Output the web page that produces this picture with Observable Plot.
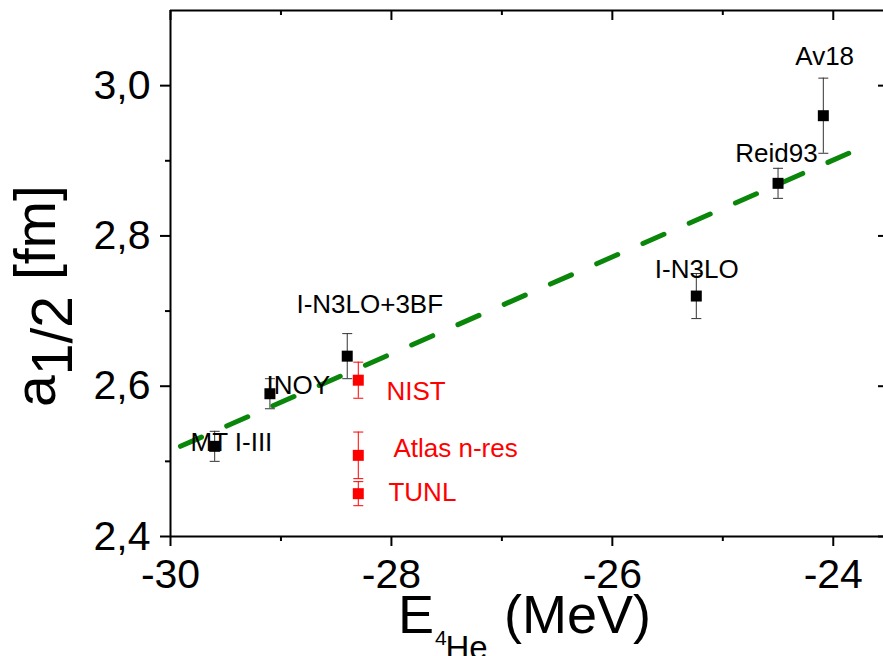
<!DOCTYPE html>
<html><head><meta charset="utf-8">
<script src="https://cdn.jsdelivr.net/npm/d3@7"></script>
<script src="https://cdn.jsdelivr.net/npm/@observablehq/plot@0.6"></script>
<style>html,body{margin:0;padding:0;background:#fff;overflow:hidden;} #chart svg{max-width:none !important;}</style>
</head><body><div id="chart"></div>
<script>
// ---- data ----
const models    = ["MT I-III", "INOY", "I-N3LO+3BF", "I-N3LO", "Reid93", "Av18"];
const modelE    = [-29.6, -29.1, -28.4, -25.24, -24.5, -24.09];
const modelA    = [2.52, 2.59, 2.64, 2.72, 2.87, 2.96];
const modelErr  = [0.02, 0.02, 0.03, 0.03, 0.02, 0.05];
const modelLabelE = [-29.819, -29.131, -28.860, -25.615, -24.887, -24.344];
const modelLabelA = [2.5133, 2.5899, 2.6969, 2.744, 2.8979, 3.0276];

const expts     = ["NIST", "Atlas n-res", "TUNL"];
const exptE     = [-28.3, -28.3, -28.3];
const exptA     = [2.608, 2.508, 2.457];
const exptErr   = [0.024, 0.031, 0.016];
const exptLabelE = [-28.045, -27.982, -28.027];
const exptLabelA = [2.5823, 2.5063, 2.4476];

const fitE = [-29.91, -23.86];
const fitA = [2.52, 2.91];

const xMajor = [-30, -28, -26, -24];
const xMinor = [-29, -27, -25];
const yMajor = [2.4, 2.6, 2.8, 3.0];
const yMinor = [2.5, 2.7, 2.9];

// ---- tables ----
const black = "#000000", red = "#ff0000", green = "#0a870a";
const pts = [
  ...models.map((m, i) => ({name: m, e: modelE[i], a: modelA[i], err: modelErr[i], le: modelLabelE[i], la: modelLabelA[i], c: black, ec: "#333"})),
  ...expts.map((m, i) => ({name: m, e: exptE[i], a: exptA[i], err: exptErr[i], le: exptLabelE[i], la: exptLabelA[i], c: red, ec: red}))
];
const caps = pts.flatMap(d => [{e: d.e, a: d.a - d.err, ec: d.ec}, {e: d.e, a: d.a + d.err, ec: d.ec}]);
const fit = fitE.map((e, i) => ({e, a: fitA[i]}));

const capSymbol = {draw(ctx, size) { const r = Math.sqrt(size / Math.PI); ctx.moveTo(-r, 0); ctx.lineTo(r, 0); }};

const W = 888, H = 656, mL = 170, mT = 10, mB = 120, mR = 0;
const frameW = W - mL - mR, frameH = H - mT - mB;
const font = "Liberation Sans, Arial, Helvetica, sans-serif";

const chart = Plot.plot({
  width: W, height: H,
  marginLeft: mL, marginTop: mT, marginBottom: mB, marginRight: mR,
  style: {fontFamily: font, background: "white", overflow: "visible", color: "black", maxWidth: "none"},
  x: {domain: [-30, -23.5]},
  y: {domain: [2.4, 3.1]},
  marks: [
    Plot.axisX(xMajor, {anchor: "bottom", tickSize: 10, tickPadding: 12, strokeWidth: 2, fontSize: 41, tickFormat: d => String(d), label: null}),
    Plot.axisX(xMinor, {anchor: "bottom", tickSize: 5, strokeWidth: 2, tickFormat: () => "", label: null}),
    Plot.axisY(yMajor, {anchor: "left", tickSize: 10, tickPadding: 10, strokeWidth: 2, fontSize: 41, tickFormat: d => d.toFixed(1).replace(".", ","), label: null}),
    Plot.axisY(yMinor, {anchor: "left", tickSize: 5, strokeWidth: 2, tickFormat: () => "", label: null}),
    Plot.tickX(xMajor, {x: d => d, insetBottom: frameH - 10, strokeWidth: 2}),
    Plot.tickX(xMinor, {x: d => d, insetBottom: frameH - 5, strokeWidth: 2}),
    Plot.tickY(yMajor, {y: d => d, insetLeft: frameW - 10, strokeWidth: 2}),
    Plot.tickY(yMinor, {y: d => d, insetLeft: frameW - 5, strokeWidth: 2}),
    Plot.ruleX([-30], {strokeWidth: 2}),
    Plot.ruleY([2.4], {strokeWidth: 2}),
    Plot.ruleY([3.1], {strokeWidth: 2}),
    Plot.line(fit, {x: "e", y: "a", stroke: green, strokeWidth: 5, strokeDasharray: "23,27.5"}),
    Plot.ruleX(pts, {x: "e", y1: d => d.a - d.err, y2: d => d.a + d.err, stroke: "ec", strokeWidth: 1}),
    Plot.dot(caps, {x: "e", y: "a", symbol: capSymbol, r: 5, stroke: "ec", fill: "none", strokeWidth: 1}),
    Plot.dot(pts, {x: "e", y: "a", symbol: "square", r: 6.2, fill: "c", stroke: "none"}),
    Plot.text(pts, {x: "le", y: "la", text: "name", fill: "c", textAnchor: "start", lineAnchor: "bottom", fontSize: 26})
  ]
});
chart.style.maxWidth = "none";
chart.style.width = W + "px";
document.getElementById("chart").appendChild(chart);

// axis titles
const svg = d3.select(chart);
const yt = svg.append("text")
  .attr("transform", "translate(55,296) rotate(-90)")
  .attr("text-anchor", "middle")
  .attr("font-family", font).attr("font-size", 57).attr("fill", "black");
yt.append("tspan").text("a");
yt.append("tspan").attr("dy", 17).text("1/2");
yt.append("tspan").attr("dy", -17).text(" [fm]");

const xt = svg.append("g").attr("font-family", font).attr("fill", "black").attr("text-anchor", "start");
xt.append("text").attr("x", 398).attr("y", 633).attr("font-size", 54).text("E");
xt.append("text").attr("x", 435).attr("y", 645).attr("font-size", 21).text("4");
xt.append("text").attr("x", 445.5).attr("y", 659).attr("font-size", 33).text("He");
xt.append("text").attr("x", 504).attr("y", 633).attr("font-size", 54).text("(MeV)");
</script></body></html>
